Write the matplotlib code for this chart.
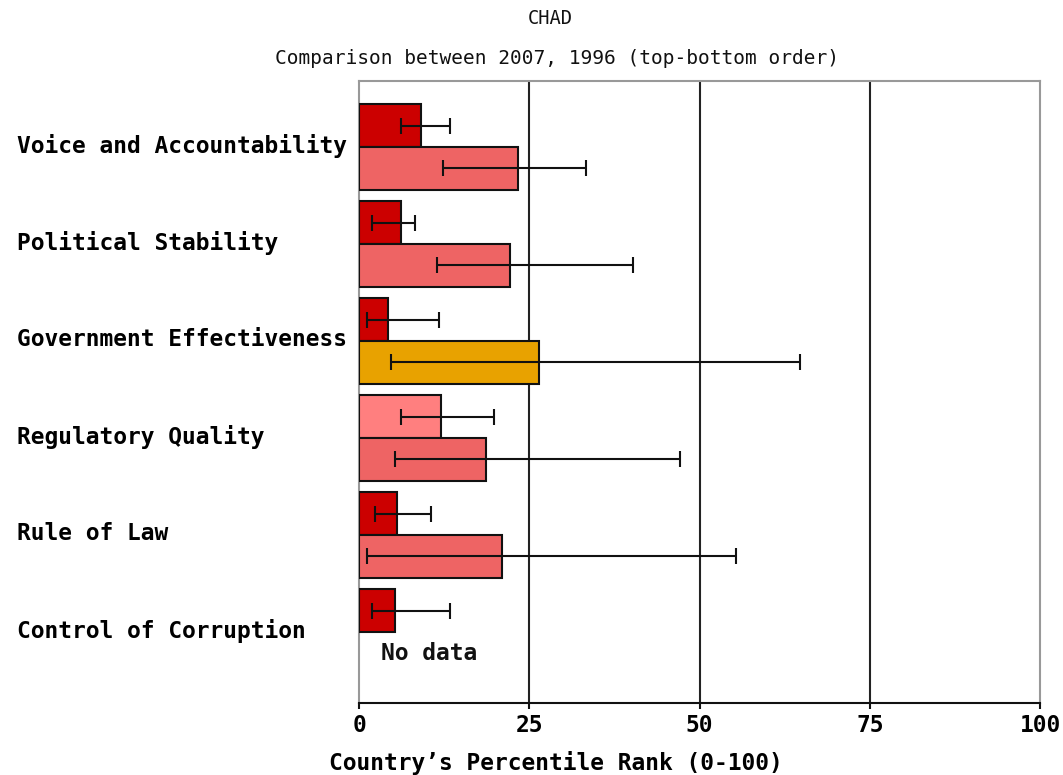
import matplotlib
matplotlib.use("Agg")
import matplotlib.pyplot as plt
import numpy as np

# Governance indicators, percentile ranks with error margins
indicators = ["Voice and Accountability", "Political Stability",
              "Government Effectiveness", "Regulatory Quality",
              "Rule of Law", "Control of Corruption"]

rank_2007 = [9.1, 6.2, 4.2, 12.0, 5.6, 5.3]
low_2007 = [6.1, 1.9, 1.2, 6.2, 2.4, 1.9]
high_2007 = [13.4, 8.2, 11.7, 19.8, 10.5, 13.4]
colors_2007 = ["#CC0000", "#CC0000", "#CC0000", "#FF7F7F", "#CC0000", "#CC0000"]

rank_1996 = [23.3, 22.1, 26.5, 18.6, 21.0, None]
low_1996 = [12.3, 11.4, 4.7, 5.3, 1.2, None]
high_1996 = [33.4, 40.3, 64.7, 47.1, 55.4, None]
colors_1996 = ["#EE6464", "#EE6464", "#E8A200", "#EE6464", "#EE6464", None]

x_ticks = [0, 25, 50, 75, 100]

FONT = "DejaVu Sans Mono"
FS = 16.5

fig = plt.figure(figsize=(10.63, 7.75), dpi=100)
ax = fig.add_axes([359 / 1063, 1 - 703 / 775, 681 / 1063, 622 / 775])

bar_h = 0.44
pos = np.arange(len(indicators))

for i in range(len(indicators)):
    y07 = pos[i] - bar_h / 2
    ax.barh(y07, rank_2007[i], height=bar_h, color=colors_2007[i],
            edgecolor="#111111", linewidth=1.5, zorder=3)
    ax.errorbar([(low_2007[i] + high_2007[i]) / 2], [y07],
                xerr=[[(high_2007[i] - low_2007[i]) / 2]],
                fmt="none", ecolor="#111111", elinewidth=1.5,
                capsize=6, capthick=1.5, zorder=4)
    y96 = pos[i] + bar_h / 2
    if rank_1996[i] is None:
        ax.text(3.3, y96, "No data", fontsize=FS, fontweight="bold",
                family=FONT, ha="left", va="center", color="#111111")
        continue
    ax.barh(y96, rank_1996[i], height=bar_h, color=colors_1996[i],
            edgecolor="#111111", linewidth=1.5, zorder=3)
    ax.errorbar([(low_1996[i] + high_1996[i]) / 2], [y96],
                xerr=[[(high_1996[i] - low_1996[i]) / 2]],
                fmt="none", ecolor="#111111", elinewidth=1.5,
                capsize=6, capthick=1.5, zorder=4)

ax.set_xlim(0, 100)
ax.set_ylim(5.73, -0.68)

# vertical gridlines at the inner ticks
for xv in x_ticks[1:-1]:
    ax.axvline(xv, color="#222222", linewidth=1.5, zorder=2)

ax.set_xticks(x_ticks)
ax.set_xticklabels([str(v) for v in x_ticks], family=FONT,
                   fontsize=FS, fontweight="bold")
ax.tick_params(axis="x", direction="out", length=4, width=1.5,
               color="#111111", pad=4)

ax.set_yticks(pos - 0.04)
ax.set_yticklabels(indicators, family=FONT, fontsize=FS, fontweight="bold")
ax.tick_params(axis="y", length=0, pad=246)
for lbl in ax.get_yticklabels():
    lbl.set_horizontalalignment("left")

for side in ["left", "top", "right"]:
    ax.spines[side].set_color("#999999")
    ax.spines[side].set_linewidth(1.5)
ax.spines["bottom"].set_color("#111111")
ax.spines["bottom"].set_linewidth(1.5)

ax.set_xlabel("Country\u2019s Percentile Rank (0-100)", family=FONT,
              fontsize=FS, fontweight="bold")
ax.xaxis.label.set_verticalalignment("center")
ax.xaxis.set_label_coords((556 - 359) / 681, (703 - 763) / 622)

fig.text(550 / 1063, 1 - 18 / 775, "CHAD", ha="center", va="center",
         family=FONT, fontsize=13.5, color="#111111")
fig.text(557 / 1063, 1 - 59 / 775, "Comparison between 2007, 1996 (top-bottom order)",
         ha="center", va="center", family=FONT, fontsize=14, color="#111111")

fig.savefig("out.png", dpi=100)
